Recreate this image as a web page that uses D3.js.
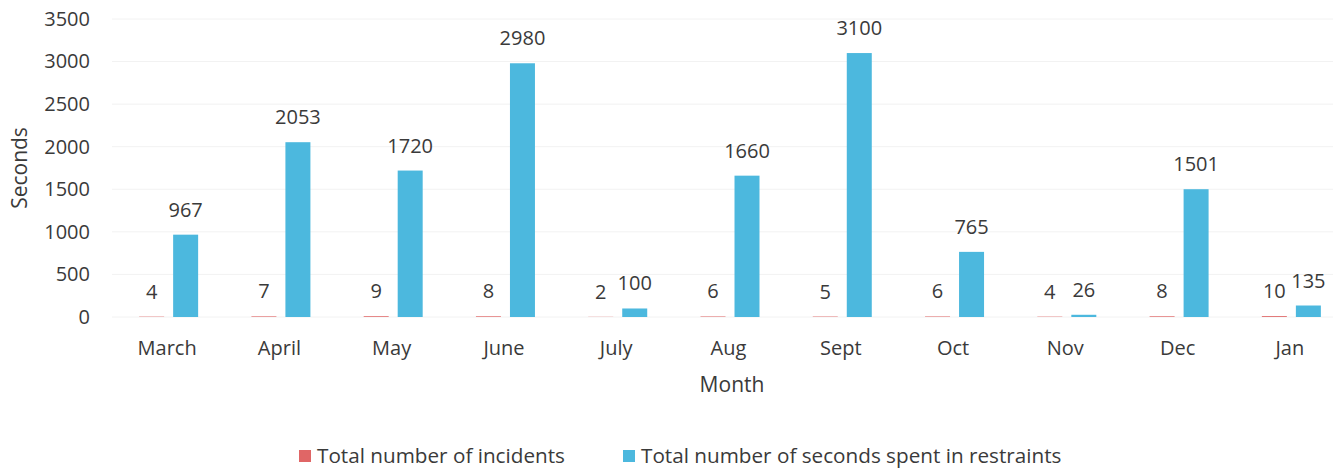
<!DOCTYPE html>
<html><head><meta charset="utf-8">
<script src="https://cdn.jsdelivr.net/npm/d3@7"></script>
<style>
html,body{margin:0;padding:0;background:#fff;}
svg{display:block;font-family:"Open Sans",sans-serif;}
</style></head>
<body>
<svg id="chart" width="1333" height="470"></svg>
<script>
const months = ["March","April","May","June","July","Aug","Sept","Oct","Nov","Dec","Jan"];
const incidents = [4,7,9,8,2,6,5,6,4,8,10];
const seconds = [967,2053,1720,2980,100,1660,3100,765,26,1501,135];
const yTicks = [0,500,1000,1500,2000,2500,3000,3500];
const seriesNames = ["Total number of incidents","Total number of seconds spent in restraints"];
const seriesColors = ["#e06666","#4cb8de"];

const svg = d3.select("#chart");
const textColor = "#3a3a3a";

const x = d3.scaleBand().domain(months).range([111, 1346]).paddingInner(0).paddingOuter(0);
const xs = d3.scaleBand().domain(["incidents","seconds"]).range([-28, 31]).paddingInner(0.265);
const y = d3.scaleLinear().domain([0,3500]).range([317, 19]);

// gridlines
svg.append("g").selectAll("line").data(yTicks).join("line")
  .attr("x1",112).attr("x2",1333)
  .attr("y1",d=>y(d)).attr("y2",d=>y(d))
  .attr("stroke","#f2f2f2").attr("stroke-width",1);

// y axis
const yAxis = d3.axisLeft(y).tickValues(yTicks).tickSize(0).tickPadding(0).tickFormat(d3.format("d"));
const gy = svg.append("g").attr("transform","translate(90,0)").call(yAxis);
gy.select(".domain").remove();
gy.selectAll("text").attr("font-size",20).attr("fill",textColor).attr("font-family","Open Sans");

// x axis
const xAxis = d3.axisBottom(x).tickSize(0).tickPadding(0);
const gx = svg.append("g").attr("transform","translate(0,341)").call(xAxis);
gx.select(".domain").remove();
gx.selectAll("text").attr("font-size",20).attr("fill",textColor).attr("font-family","Open Sans");

const rows = months.map((m,i)=>({m, incidents:incidents[i], seconds:seconds[i]}));
const keys = ["incidents","seconds"];

keys.forEach((k,ki)=>{
  const g = svg.append("g");
  g.selectAll("rect").data(rows).join("rect")
    .attr("x",d=>x(d.m)+x.bandwidth()/2+xs(k))
    .attr("width",xs.bandwidth())
    .attr("y",d=>y(d[k]))
    .attr("height",d=>y(0)-y(d[k]))
    .attr("fill",seriesColors[ki]);
  g.selectAll("text").data(rows).join("text")
    .attr("x",d=>x(d.m)+x.bandwidth()/2+xs(k)+xs.bandwidth()/2)
    .attr("y",d=>y(d[k])-18)
    .attr("text-anchor","middle")
    .attr("font-size",20).attr("fill",textColor)
    .text(d=>d[k]);
});

// axis titles
svg.append("text").attr("transform","translate(27,168) rotate(-90)")
  .attr("text-anchor","middle").attr("font-size",21).attr("fill",textColor).text("Seconds");
svg.append("text").attr("x",732).attr("y",392)
  .attr("text-anchor","middle").attr("font-size",21).attr("fill",textColor).text("Month");

// legend
const legendX = [299, 623];
const lg = svg.append("g");
seriesNames.forEach((n,i)=>{
  lg.append("rect").attr("x",legendX[i]).attr("y",450).attr("width",12).attr("height",12).attr("fill",seriesColors[i]);
  lg.append("text").attr("x",legendX[i]+18).attr("y",463).attr("font-size",20.7).attr("fill",textColor).text(n);
});
</script>
</body></html>
